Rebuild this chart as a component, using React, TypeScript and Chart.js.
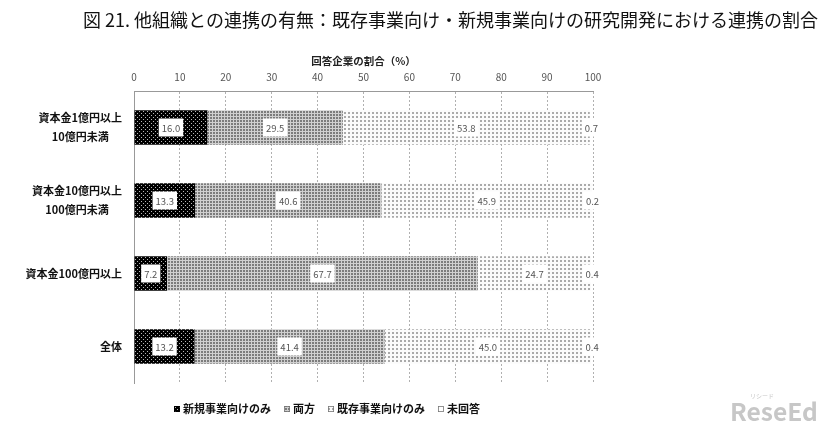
import React, { useEffect, useRef } from "react";
import { Chart, registerables } from "chart.js";

Chart.register(...registerables);

const FONT = '"Noto Sans CJK JP", "Noto Sans", sans-serif';

const titleText = "図 21. 他組織との連携の有無：既存事業向け・新規事業向けの研究開発における連携の割合";
const axisTitle = "回答企業の割合（%）";
const categories: string[][] = [
  ["資本金1億円以上", "10億円未満"],
  ["資本金10億円以上", "100億円未満"],
  ["資本金100億円以上"],
  ["全体"],
];
const seriesNames = ["新規事業向けのみ", "両方", "既存事業向けのみ", "未回答"];
const newOnly = [16.0, 13.3, 7.2, 13.2];
const both = [29.5, 40.6, 67.7, 41.4];
const existingOnly = [53.8, 45.9, 24.7, 45.0];
const noAnswer = [0.7, 0.2, 0.4, 0.4];
const xMin = 0;
const xMax = 100;
const xStep = 10;

function makePattern(size: number, bg: string, fg: string, dots: number[][]) {
  const c = document.createElement("canvas");
  c.width = size;
  c.height = size;
  const g = c.getContext("2d")!;
  g.fillStyle = bg;
  g.fillRect(0, 0, size, size);
  g.fillStyle = fg;
  dots.forEach(([x, y]) => g.fillRect(x, y, 1, 1));
  return g.createPattern(c, "repeat")!;
}

export default function App() {
  const ref = useRef<HTMLCanvasElement | null>(null);

  useEffect(() => {
    if (!ref.current) return;
    const pBlack = makePattern(4, "#000000", "#b8b8b8", [[1, 1], [3, 3]]);
    const pGray = makePattern(3, "#d0d0d0", "#7c7c7c", [[0, 0], [1, 0], [0, 1], [1, 1]]);
    const pLight = makePattern(4, "#fbfbfb", "#aaaaaa", [[0, 0], [1, 0], [0, 1], [1, 1]]);
    const fills: any[] = [pBlack, pGray, pLight, "#ffffff"];
    const values = [newOnly, both, existingOnly, noAnswer];

    const overlay = {
      id: "overlay",
      afterDatasetsDraw(chart: any) {
        const ctx = chart.ctx as CanvasRenderingContext2D;
        ctx.save();
        ctx.font = `9.5px ${FONT}`;
        ctx.textAlign = "center";
        ctx.textBaseline = "middle";
        chart.data.datasets.forEach((ds: any, di: number) => {
          const meta = chart.getDatasetMeta(di);
          meta.data.forEach((el: any, j: number) => {
            const v = ds.data[j] as number;
            const text = v.toFixed(1);
            const cx = (el.x + el.base) / 2;
            const cy = el.y;
            const w = ctx.measureText(text).width + 6;
            const h = 18;
            ctx.fillStyle = "#ffffff";
            ctx.fillRect(cx - w / 2, cy - h / 2, w, h);
            ctx.fillStyle = "#555555";
            ctx.fillText(text, cx, cy + 0.5);
          });
        });
        ctx.restore();
      },
      afterDraw(chart: any) {
        const ctx = chart.ctx as CanvasRenderingContext2D;
        const yScale = chart.scales.y;
        ctx.save();
        // title
        ctx.fillStyle = "#111";
        ctx.textAlign = "left";
        ctx.textBaseline = "middle";
        ctx.font = `17px ${FONT}`;
        const tw = ctx.measureText(titleText).width;
        const size = 17 * 735 / tw;
        ctx.font = `${size.toFixed(2)}px ${FONT}`;
        ctx.fillText(titleText, 83, 20);

        // category labels
        ctx.font = `bold 11px ${FONT}`;
        ctx.fillStyle = "#111";
        ctx.textAlign = "center";
        categories.forEach((lines, i) => {
          const cy = yScale.getPixelForValue(i);
          const maxW = Math.max(...lines.map((l) => ctx.measureText(l).width));
          const cx = yScale.right - 12 - maxW / 2;
          const lh = 19;
          lines.forEach((l, k) => {
            ctx.fillText(l, cx, cy + (k - (lines.length - 1) / 2) * lh);
          });
        });

        // legend
        ctx.font = `bold 11px ${FONT}`;
        const box = 6;
        const gapBox = 3;
        const gapItem = 13;
        const widths = seriesNames.map((n) => box + gapBox + ctx.measureText(n).width);
        const total = widths.reduce((a, b) => a + b, 0) + gapItem * (seriesNames.length - 1);
        let x = 327 - total / 2;
        const ly = 409;
        seriesNames.forEach((n, i) => {
          ctx.fillStyle = fills[i];
          ctx.fillRect(x, ly - box / 2, box, box);
          ctx.strokeStyle = i === 0 ? "#000" : "#777";
          ctx.lineWidth = 0.8;
          ctx.strokeRect(x + 0.4, ly - box / 2 + 0.4, box - 0.8, box - 0.8);
          ctx.fillStyle = "#111";
          ctx.textAlign = "left";
          ctx.fillText(n, x + box + gapBox, ly);
          x += widths[i] + gapItem;
        });

        // watermark
        ctx.fillStyle = "rgba(185,185,185,0.8)";
        ctx.font = `bold 30px ${FONT}`;
        const ww = ctx.measureText("ReseEd").width;
        const ws = 30 * 88 / ww;
        ctx.font = `bold ${ws.toFixed(1)}px ${FONT}`;
        ctx.textAlign = "left";
        ctx.fillText("ReseEd", 730, 412);
        ctx.font = `6px ${FONT}`;
        ctx.fillText("リシード", 750, 396);
        ctx.restore();
      },
    };

    const chart = new Chart(ref.current, {
      type: "bar",
      data: {
        labels: categories.map((c) => c.join("")),
        datasets: seriesNames.map((n, i) => ({
          label: n,
          data: values[i],
          backgroundColor: fills[i],
          borderWidth: 0,
          barPercentage: 0.47,
          categoryPercentage: 1,
        })),
      },
      options: {
        animation: false,
        responsive: false,
        indexAxis: "y",
        layout: { padding: { left: 0, right: 233, top: 40, bottom: 45 } },
        plugins: {
          legend: { display: false },
          title: { display: false },
          tooltip: { enabled: false },
        },
        scales: {
          x: {
            position: "top",
            stacked: true,
            min: xMin,
            max: xMax,
            ticks: { stepSize: xStep, color: "#555", font: { size: 10, family: FONT }, padding: 8 },
            grid: { color: "#b0b0b0", drawTicks: false, lineWidth: 1 },
            border: { display: true, color: "#999", dash: [2, 2] },
            title: {
              display: true,
              text: axisTitle,
              color: "#222",
              font: { size: 10.5, weight: "bold", family: FONT },
              padding: { top: 15, bottom: 0 },
            },
            afterFit: (s: any) => {
              s.height = 51;
            },
          },
          y: {
            stacked: true,
            ticks: { display: false },
            grid: { display: false },
            border: { display: true, color: "#999" },
            afterFit: (s: any) => {
              s.width = 134;
            },
          },
        },
      } as any,
      plugins: [overlay],
    });
    return () => chart.destroy();
  }, []);

  return (
    <div style={{ position: "fixed", left: 0, top: 0, width: 826, height: 428, background: "#fff" }}>
      <canvas ref={ref} width={826} height={428} style={{ display: "block" }} />
    </div>
  );
}
